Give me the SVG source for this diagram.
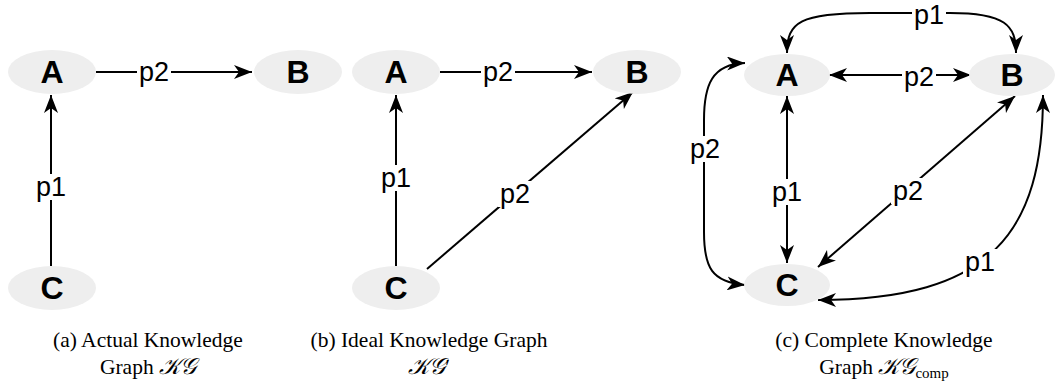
<svg xmlns="http://www.w3.org/2000/svg" width="1057" height="392" viewBox="0 0 1057 392">
<defs>
<marker id="arr" viewBox="0 0 19 14" markerWidth="19" markerHeight="14" refX="18" refY="7" orient="auto-start-reverse" markerUnits="userSpaceOnUse">
<path d="M0,0 L18,7 L0,14 L5,7 Z" fill="#000"/>
</marker>
</defs>
<style>
.node ellipse{fill:#eeeeee;stroke:none}
.node text{font-family:"Liberation Sans",Arial,sans-serif;font-weight:bold;font-size:32px;fill:#000;text-anchor:middle;dominant-baseline:central}
.edge{fill:none;stroke:#000;stroke-width:2}
.e1{marker-end:url(#arr)}
.e2{marker-start:url(#arr);marker-end:url(#arr)}
.lbl rect{fill:#fff}
.lbl text{font-family:"Liberation Sans",Arial,sans-serif;font-size:27px;fill:#000;text-anchor:middle;dominant-baseline:central}
.cap{font-family:"Liberation Serif","Times New Roman",serif;font-size:21.5px;fill:#000;text-anchor:middle}
.math{font-family:"DejaVu Serif","DejaVu Sans","Liberation Serif",serif;font-style:italic;font-size:23px}
</style>
<g id="connectors">
<!-- panel a -->
<path class="edge e1" d="M96 72 L252 72"/>
<path class="edge e1" d="M51 266 L51 95"/>
<!-- panel b -->
<path class="edge e1" d="M440 72 L592 72"/>
<path class="edge e1" d="M396 266 L396 95"/>
<path class="edge e1" d="M427 269 L633 92"/>
<!-- panel c -->
<path class="edge e2" d="M787 53 C787 22 800 13 870 13 L950 13 C1005 13 1016 25 1016 53"/>
<path class="edge e2" d="M829 75 L971 75"/>
<path class="edge e2" d="M787 96 L787 263"/>
<path class="edge e2" d="M1015 96 L818 267"/>
<path class="edge e2" d="M745 63 C712 64 704 85 704 120 L704 232 C704 268 712 282 745 285"/>
<path class="edge e2" d="M1043 95 C1043 232 992 300 818 300"/>
</g>
<g id="edge-labels" class="lbl">
<rect x="137" y="59" width="34" height="26"/><text x="154" y="72">p2</text>
<rect x="34" y="174" width="34" height="26"/><text x="51" y="187">p1</text>
<rect x="481" y="59" width="34" height="26"/><text x="498" y="72">p2</text>
<rect x="379" y="165" width="34" height="26"/><text x="396" y="178">p1</text>
<rect x="498" y="181" width="34" height="26"/><text x="515" y="194">p2</text>
<rect x="912" y="2" width="34" height="26"/><text x="929" y="15">p1</text>
<rect x="902" y="64" width="34" height="26"/><text x="919" y="77">p2</text>
<rect x="770" y="179" width="34" height="26"/><text x="787" y="192">p1</text>
<rect x="891" y="178" width="34" height="26"/><text x="908" y="191">p2</text>
<rect x="688" y="136" width="34" height="26"/><text x="705" y="149">p2</text>
<rect x="963" y="249" width="34" height="26"/><text x="980" y="262">p1</text>
</g>
<g id="a-A" class="node"><ellipse cx="52" cy="72" rx="44" ry="22"/><text x="52" y="72">A</text></g>
<g id="a-B" class="node"><ellipse cx="298" cy="72" rx="44" ry="22"/><text x="298" y="72">B</text></g>
<g id="a-C" class="node"><ellipse cx="52" cy="288" rx="44" ry="22"/><text x="52" y="288">C</text></g>
<g id="b-A" class="node"><ellipse cx="396" cy="72" rx="44" ry="22"/><text x="396" y="72">A</text></g>
<g id="b-B" class="node"><ellipse cx="637" cy="72" rx="44" ry="22"/><text x="637" y="72">B</text></g>
<g id="b-C" class="node"><ellipse cx="396" cy="288" rx="44" ry="22"/><text x="396" y="288">C</text></g>
<g id="c-A" class="node"><ellipse cx="787" cy="75" rx="43" ry="21"/><text x="787" y="75">A</text></g>
<g id="c-B" class="node"><ellipse cx="1012" cy="75" rx="43" ry="21"/><text x="1012" y="75">B</text></g>
<g id="c-C" class="node"><ellipse cx="787" cy="285" rx="43" ry="21"/><text x="787" y="285">C</text></g>
<g id="captions">
<text class="cap" x="148" y="347">(a) Actual Knowledge</text>
<text class="cap" x="148" y="374">Graph <tspan class="math">𝒦𝒢</tspan></text>
<text class="cap" x="429" y="347">(b) Ideal Knowledge Graph</text>
<text class="cap" x="429" y="374"><tspan class="math">𝒦𝒢</tspan>′</text>
<text class="cap" x="884" y="347">(c) Complete Knowledge</text>
<text class="cap" x="884" y="374">Graph <tspan class="math">𝒦𝒢</tspan><tspan font-size="15" dy="4">comp</tspan></text>
</g>
</svg>
